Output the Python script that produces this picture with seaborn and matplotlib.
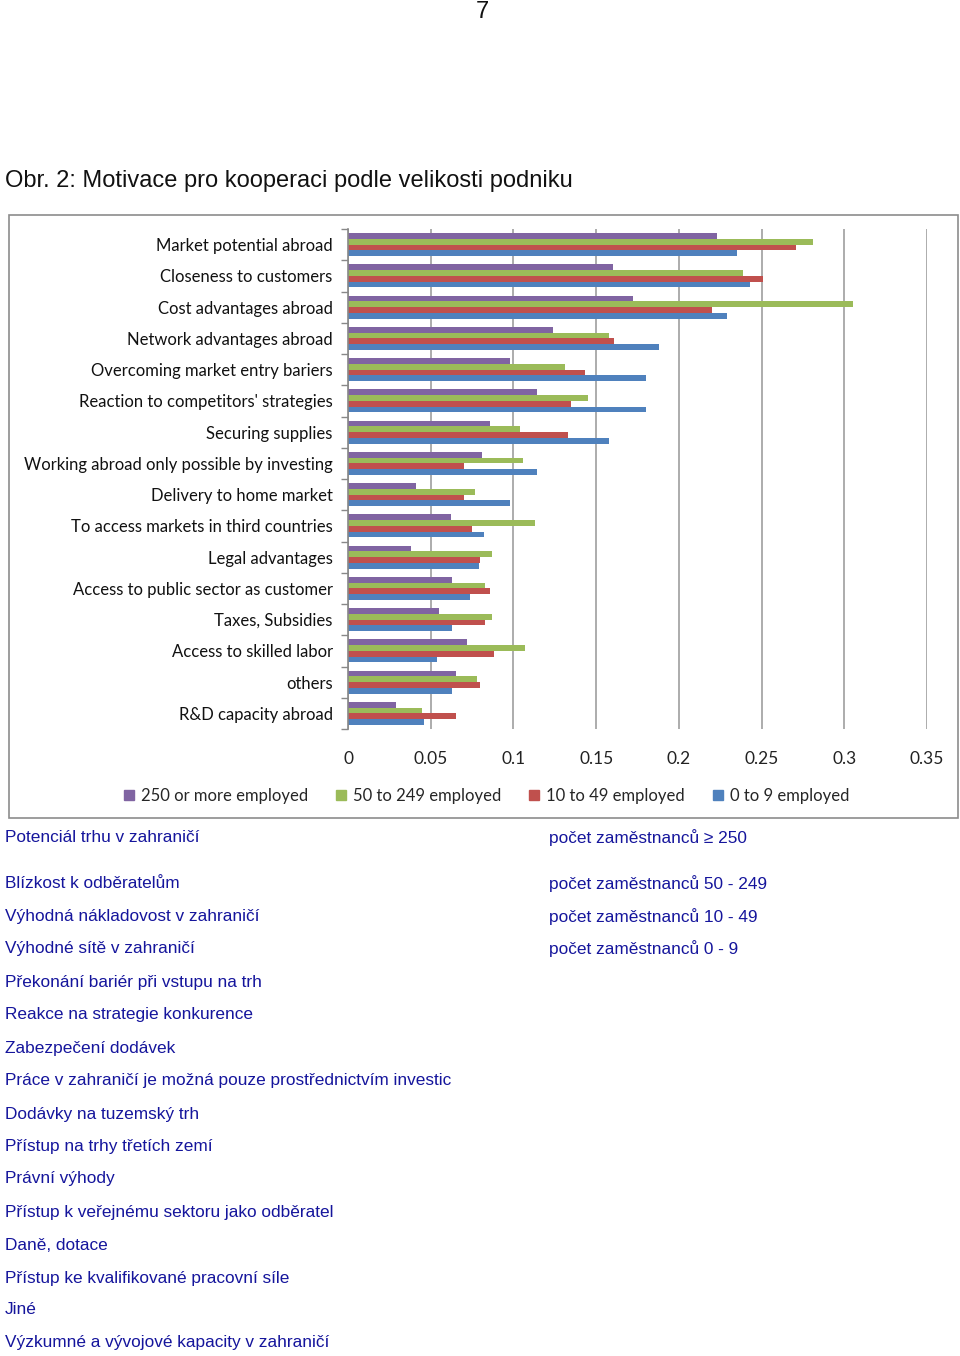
import matplotlib
matplotlib.use("Agg")
import matplotlib.pyplot as plt
from matplotlib.lines import Line2D
from matplotlib.patches import Rectangle
import seaborn as sns
import pandas as pd
import numpy as np

categories = [
    "Market potential abroad", "Closeness to customers", "Cost advantages abroad",
    "Network advantages abroad", "Overcoming market entry bariers",
    "Reaction to competitors' strategies", "Securing supplies",
    "Working abroad only possible by investing", "Delivery to home market",
    "To access markets in third countries", "Legal advantages",
    "Access to public sector as customer", "Taxes, Subsidies",
    "Access to skilled labor", "others", "R&D capacity abroad",
]
series_names = ["250 or more employed", "50 to 249 employed", "10 to 49 employed", "0 to 9 employed"]
v250 = [0.223, 0.160, 0.172, 0.124, 0.098, 0.114, 0.086, 0.081, 0.041, 0.062, 0.038, 0.063, 0.055, 0.072, 0.065, 0.029]
v50 = [0.281, 0.239, 0.305, 0.158, 0.131, 0.145, 0.104, 0.106, 0.077, 0.113, 0.087, 0.083, 0.087, 0.107, 0.078, 0.045]
v10 = [0.271, 0.251, 0.220, 0.161, 0.143, 0.135, 0.133, 0.070, 0.070, 0.075, 0.080, 0.086, 0.083, 0.088, 0.080, 0.065]
v0 = [0.235, 0.243, 0.229, 0.188, 0.180, 0.180, 0.158, 0.114, 0.098, 0.082, 0.079, 0.074, 0.063, 0.054, 0.063, 0.046]
colors = ["#8064A2", "#9BBB59", "#C0504D", "#4F81BD"]
xticks = [0, 0.05, 0.1, 0.15, 0.2, 0.25, 0.3, 0.35]
xticklabels = ["0", "0.05", "0.1", "0.15", "0.2", "0.25", "0.3", "0.35"]

cz_left = [
    "Potenciál trhu v zahraničí", "Blízkost k odběratelům", "Výhodná nákladovost v zahraničí",
    "Výhodné sítě v zahraničí", "Překonání bariér při vstupu na trh", "Reakce na strategie konkurence",
    "Zabezpečení dodávek", "Práce v zahraničí je možná pouze prostřednictvím investic",
    "Dodávky na tuzemský trh", "Přístup na trhy třetích zemí", "Právní výhody",
    "Přístup k veřejnému sektoru jako odběratel", "Daně, dotace",
    "Přístup ke kvalifikované pracovní síle", "Jiné", "Výzkumné a vývojové kapacity v zahraničí",
]
cz_right = ["počet zaměstnanců ≥ 250", "počet zaměstnanců 50 - 249",
            "počet zaměstnanců 10 - 49", "počet zaměstnanců 0 - 9"]

rows = []
for name, vals in zip(series_names, [v250, v50, v10, v0]):
    for c, v in zip(categories, vals):
        rows.append({"category": c, "group": name, "value": v})
df = pd.DataFrame(rows)

sns.set_theme(style="white")
plt.rcParams["font.family"] = ["Lato", "DejaVu Sans"]

W, H = 960, 1356
fig = plt.figure(figsize=(W / 100, H / 100), dpi=100)
fig.patch.set_facecolor("white")

def fx(px):
    return px / W

def fy(py):
    return 1 - py / H

ax = fig.add_axes([fx(348), fy(729), fx(927) - fx(348), fy(229) - fy(729)])
sns.barplot(data=df, y="category", x="value", hue="group", order=categories,
            hue_order=series_names, palette=colors, saturation=1, width=0.74,
            orient="h", ax=ax, legend=False, linewidth=0, edgecolor="none")
ax.set_xlim(0, 0.35)
ax.set_ylim(len(categories) - 0.5, -0.5)
ax.set_xlabel("")
ax.set_ylabel("")
ax.set_xticks(xticks)
ax.set_xticklabels(xticklabels, fontsize=12.5, color="#222222")
ax.tick_params(axis="x", length=0, pad=16)
ax.tick_params(axis="y", which="major", length=0, pad=11, labelsize=12.0, labelcolor="#111111")
ax.set_yticks(np.arange(-0.5, len(categories), 1), minor=True)
ax.tick_params(axis="y", which="minor", left=True, length=5, width=1, color="#888888", direction="out")
ax.grid(axis="x", color="#a6a6a6", linewidth=1.3)
ax.set_axisbelow(True)
for s in ["top", "right", "bottom"]:
    ax.spines[s].set_visible(False)
ax.spines["left"].set_color("#888888")
ax.spines["left"].set_linewidth(1.2)

handles = [Line2D([0], [0], marker="s", linestyle="none", markersize=7,
                  markerfacecolor=c, markeredgecolor=c) for c in colors]
fig.legend(handles, series_names, loc="center", bbox_to_anchor=(fx(486), fy(796)),
           ncol=4, frameon=False, fontsize=12, handlelength=0.7, handletextpad=0.35,
           columnspacing=1.65)

fig.patches.append(Rectangle((fx(9), fy(818)), fx(958) - fx(9), fy(215) - fy(818),
                             transform=fig.transFigure, fill=False,
                             edgecolor="#8c8c8c", linewidth=1.2))

sans = ["Liberation Sans", "DejaVu Sans"]
fig.text(fx(482), fy(12), "7", ha="center", va="center", fontsize=17, family=sans, color="#111111")
fig.text(fx(5), fy(181), "Obr. 2: Motivace pro kooperaci podle velikosti podniku",
         ha="left", va="center", fontsize=17, family=sans, color="#111111")

blue = "#15159c"
left_y = [838, 884, 917, 949, 982, 1015, 1048, 1081, 1114, 1146, 1179, 1212, 1245, 1278, 1310, 1343]
for t, y in zip(cz_left, left_y):
    fig.text(fx(5), fy(y), t, ha="left", va="center", fontsize=12.4, family=sans, color=blue)
for t, y in zip(cz_right, left_y[:4]):
    fig.text(fx(549), fy(y), t, ha="left", va="center", fontsize=12.4, family=sans, color=blue)

fig.savefig("out.png", dpi=100)
